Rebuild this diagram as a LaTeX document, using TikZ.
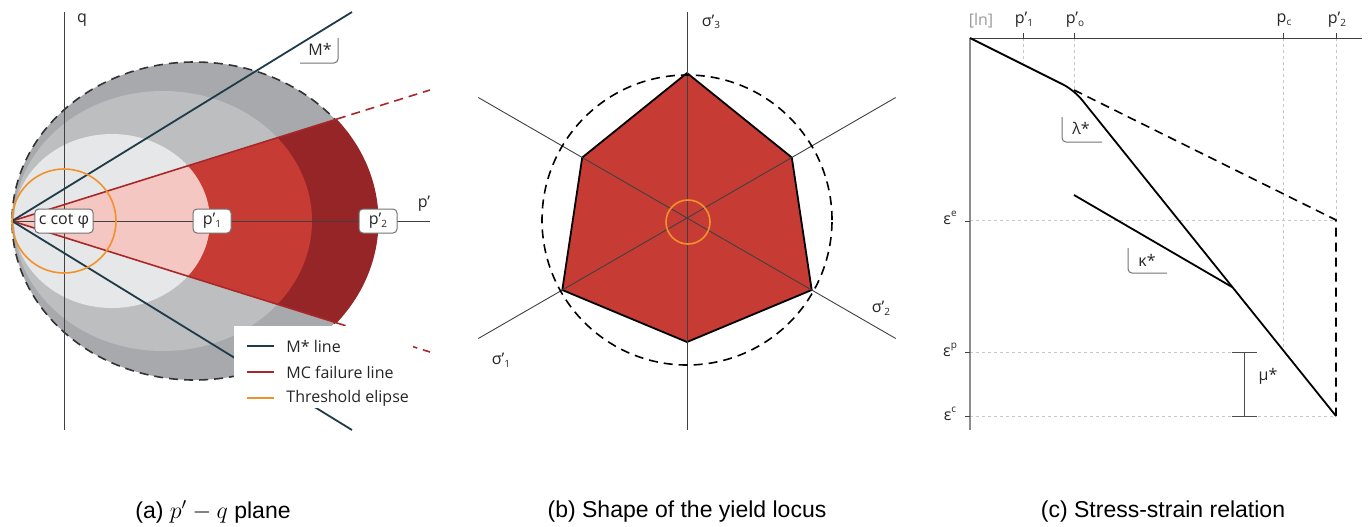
\documentclass[tikz,border=0pt]{standalone}
\usepackage{fontspec}
\setmainfont{Liberation Sans}
\newfontfamily\plotfont{Open Sans}
\usetikzlibrary{positioning}

\definecolor{grayout}{HTML}{A7A9AC}
\definecolor{graymid}{HTML}{BCBEC0}
\definecolor{grayin}{HTML}{E6E7E8}
\definecolor{redout}{HTML}{952527}
\definecolor{redmid}{HTML}{C63C34}
\definecolor{redin}{HTML}{F4C7C3}
\definecolor{mcred}{HTML}{A8282A}
\definecolor{mline}{HTML}{1F3B4A}
\definecolor{thresh}{HTML}{F0922C}

\newcommand{\lowidx}[1]{\raisebox{-0.3ex}{\fontsize{5}{5}\selectfont #1}}
\newcommand{\highidx}[1]{\raisebox{0.9ex}{\fontsize{5}{5}\selectfont #1}}

\begin{document}
\begin{tikzpicture}[
    x=0.5pt, y=-0.5pt,
    lbl/.style={font=\plotfont\fontsize{8}{9}\selectfont, text=black!85, inner sep=1pt},
    tag/.style={lbl, draw=black!55, fill=white, rounded corners=2pt, inner sep=2pt, minimum height=12pt, line width=0.5pt},
    axis/.style={draw=black!75, line width=0.45pt},
    grid/.style={draw=black!22, line width=0.4pt, dash pattern=on 1.5pt off 1.5pt},
    mcline/.style={draw=mcred, line width=0.8pt},
    mstar/.style={draw=mline, line width=0.9pt},
    curve/.style={draw=black, line width=0.9pt},
    dashline/.style={line width=0.8pt, dash pattern=on 4.5pt off 3pt},
    bracket/.style={draw=black!55, line width=0.5pt, rounded corners=2pt},
    caption/.style={font=\fontsize{11.5}{14}\selectfont}
]
\useasboundingbox (0,0) rectangle (1368,526);

% (a) p'-q plane
\coordinate (apex) at (12,221);
\fill[grayout] (194.5,221) ellipse [x radius=182.5, y radius=159];
\draw[black!80, dashline] (194.5,221) ellipse [x radius=182.5, y radius=159];
\fill[graymid] (163,221) ellipse [x radius=149, y radius=130];
\fill[grayin] (112,221) ellipse [x radius=98, y radius=87];
\begin{scope}
  \clip (apex) -- (430,90) -- (430,352) -- cycle;
  \fill[redout] (194.5,221) ellipse [x radius=184, y radius=160.5];
  \fill[redmid] (163,221) ellipse [x radius=149, y radius=130];
  \fill[redin] (112,221) ellipse [x radius=98, y radius=87];
\end{scope}

\coordinate (qtop) at (64,12);
\coordinate (qbot) at (64,430);
\coordinate (pend) at (430,221);
\draw[axis] (qbot) -- (qtop);
\draw[axis] (apex) -- (pend);
\node[lbl] (qlbl) at (82,20) {q};
\node[lbl] (plbl) at (424,204) {p’};

\coordinate (mcup) at (337,119);
\coordinate (mcupend) at (430,90);
\coordinate (mclo) at (337,323);
\coordinate (mcloend) at (430,352);
\draw[mcline] (apex) -- (mcup);
\draw[mcline, dashline] (mcup) -- (mcupend);
\draw[mcline] (apex) -- (mclo);
\draw[mcline, dashline] (mclo) -- (mcloend);

\coordinate (mup) at (352,12);
\coordinate (mlo) at (352,430);
\draw[mstar] (apex) -- (mup);
\draw[mstar] (apex) -- (mlo);

\draw[thresh, line width=0.8pt] (64,221) circle [radius=52];

\node[lbl] (mlbl) at (320,49) {M*};
\draw[bracket] (300,63) -- (338,63) -- (338,38);

% legend
\fill[white] (234,326) rectangle (413,408);
\draw[mstar] (247,346) -- (274,346);
\draw[mcline] (247,372) -- (274,372);
\draw[thresh, line width=0.8pt] (247,398) -- (274,398);
\node[lbl, anchor=west] (leg1) at (284,346) {M* line};
\node[lbl, anchor=west] (leg2) at (284,372) {MC failure line};
\node[lbl, anchor=west] (leg3) at (284,398) {Threshold elipse};

\node[tag] (ccot) at (64,221) {c cot φ};
\node[tag, minimum width=19pt] (pone) at (212,221) {p’\lowidx{1}};
\node[tag, minimum width=19pt] (ptwo) at (378,221) {p’\lowidx{2}};

% (b) yield locus
\begin{scope}[shift={(687,218)}, y=0.5pt]
  \coordinate (vtop) at (90:145);
  \coordinate (vur) at (30:121);
  \coordinate (vlr) at (-30:144);
  \coordinate (vbot) at (270:124);
  \coordinate (vll) at (210:144);
  \coordinate (vul) at (150:121);
  \filldraw[fill=redmid, draw=black, line width=0.9pt, line join=round]
    (vtop) -- (vur) -- (vlr) -- (vbot) -- (vll) -- (vul) -- cycle;
  \draw[axis] (0,206) -- (0,-212);
  \draw[axis] (30:241) -- (210:241);
  \draw[axis] (150:241) -- (330:241);
  \draw[black, dashline] (0,-2) circle [radius=145];
  \draw[thresh, line width=0.8pt] (1,-4) circle [radius=22];
\end{scope}
\node[lbl] (sthree) at (711,22) {σ’\lowidx{3}};
\node[lbl] (stwo) at (881,308) {σ’\lowidx{2}};
\node[lbl] (sone) at (501,360) {σ’\lowidx{1}};

% (c) stress-strain relation
\coordinate (orig) at (970,38);
\coordinate (xend) at (1362,38);
\coordinate (yend) at (970,430);
\coordinate (knee) at (1074,90);
\coordinate (last) at (1336,416);
\coordinate (dend) at (1336,220);
\coordinate (kstart) at (1074,195);
\coordinate (kend) at (1232,287);

\draw[grid] (1023,38) -- (1023,63);
\draw[grid] (knee |- orig) -- (knee);
\draw[grid] (1283,38) -- (1283,349);
\draw[grid] (dend |- orig) -- (dend);
\draw[grid] (orig |- dend) -- (dend);
\draw[grid] (970,352) -- (1232,352);
\draw[grid] (orig |- last) -- (last);

\draw[draw=black!45, line width=0.8pt] (orig) -- (yend);
\draw[axis] (orig) -- (xend);
\foreach \xx in {1023,1074,1283,1336}
  \draw[axis] (\xx,33) -- (\xx,38);
\foreach \yy in {221,352,416}
  \draw[axis] (965,\yy) -- (970,\yy);

\draw[curve, rounded corners=6pt] (orig) -- (knee) -- (last);
\draw[black, dashline] (knee) -- (dend) -- (last);
\draw[curve] (kstart) -- (kend);

\node[lbl, text=black!40] (lnlbl) at (981,21) {[ln]};
\node[lbl] (pzero1) at (1024,20) {p’\lowidx{1}};
\node[lbl] (pzero0) at (1075,20) {p’\lowidx{o}};
\node[lbl] (pclbl) at (1284,20) {p\lowidx{c}};
\node[lbl] (pzero2) at (1337,20) {p’\lowidx{2}};
\node[lbl] (ee) at (950,218) {ε\highidx{e}};
\node[lbl] (ep) at (950,350) {ε\highidx{p}};
\node[lbl] (ec) at (950,414) {ε\highidx{c}};

\draw[bracket] (1062,117) -- (1062,142) -- (1102,142);
\node[lbl] (lam) at (1081,128) {λ*};
\draw[bracket] (1128,248) -- (1128,273) -- (1167,273);
\node[lbl] (kap) at (1147,260) {κ*};
\draw[draw=black!70, line width=0.5pt] (1244,352) -- (1244,416);
\draw[draw=black!70, line width=0.5pt] (1232,352) -- (1257,352);
\draw[draw=black!70, line width=0.5pt] (1232,416) -- (1257,416);
\node[lbl] (mu) at (1268,376) {μ*};

% captions
\node[caption] (capa) at (213,512) {(a) $p'-q$ plane};
\node[caption] (capb) at (687,512) {(b) Shape of the yield locus};
\node[caption] (capc) at (1163,512) {(c) Stress-strain relation};
\end{tikzpicture}
\end{document}
